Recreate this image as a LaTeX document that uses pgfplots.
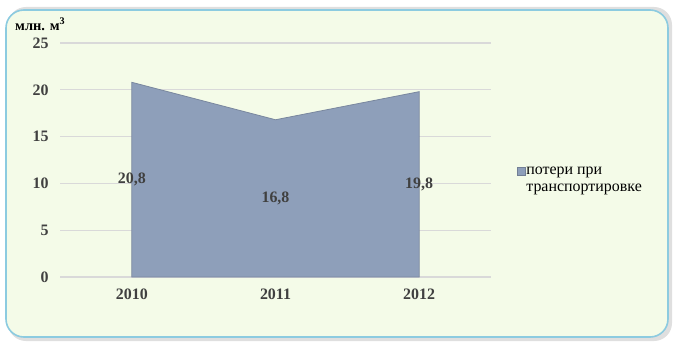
\documentclass[border=0pt]{standalone}
\usepackage{pgfplots}
\pgfplotsset{compat=1.18}
\usepackage{fontspec}
\setmainfont{Liberation Serif}
\definecolor{bgc}{HTML}{F4FBE8}
\definecolor{brd}{HTML}{8CCBE0}
\definecolor{areac}{HTML}{8E9FBA}
\definecolor{txt}{HTML}{404040}
\definecolor{gridc}{HTML}{D9D9D9}
\begin{document}
\begin{tikzpicture}[x=1bp,y=1bp]
\path[use as bounding box] (0,0) rectangle (674,343);
\fill[gray!25,rounded corners=18] (8,2) rectangle (672,336);
\filldraw[fill=bgc,draw=brd,line width=1.6,rounded corners=18] (6,6) rectangle (668,333);
\begin{axis}[
  at={(60bp,66bp)}, anchor=south west,
  scale only axis, width=431bp, height=234bp,
  xmin=-0.5, xmax=2.5, ymin=0, ymax=25,
  xtick={0,1,2}, xticklabels={2010,2011,2012},
  ytick={0,5,10,15,20,25},
  axis line style={draw=none},
  major tick length=0pt,
  ymajorgrids, grid style={gridc, line width=1.2pt},
  ticklabel style={font=\fontsize{16}{18}\selectfont\bfseries, text=txt},
  /pgf/number format/assume math mode=true,
  xticklabel style={yshift=-8bp},
  yticklabel style={xshift=-8bp},
  legend style={at={(1.06,0.474)}, anchor=north west, draw=none, fill=none,
    font=\fontsize{16}{17}\selectfont, text=black, align=left,
    legend cell align=left, inner sep=0pt, nodes={inner sep=1bp}},
  legend image code/.code={\fill[areac, draw=areac!80!black, line width=0.3pt] (0bp,5bp) rectangle (8bp,13bp);},
  clip=false,
]
\addplot[fill=areac, draw=areac!85!black, line width=0.8pt] coordinates {(0,20.8) (1,16.8) (2,19.8)} \closedcycle;
\addlegendentry{потери при\\транспортировке}
\addplot[draw=none, mark=none, nodes near coords, point meta=explicit symbolic,
  every node near coord/.style={anchor=center, font=\fontsize{16}{18}\selectfont\bfseries, text=txt}]
  coordinates {(0,10.4)[20,8] (1,8.4)[16,8] (2,9.9)[19,8]};
\end{axis}
\node[anchor=base west, font=\fontsize{14.5}{16}\selectfont\bfseries, inner sep=0pt] at (15,313) {млн. м\textsuperscript{3}};
\end{tikzpicture}
\end{document}
